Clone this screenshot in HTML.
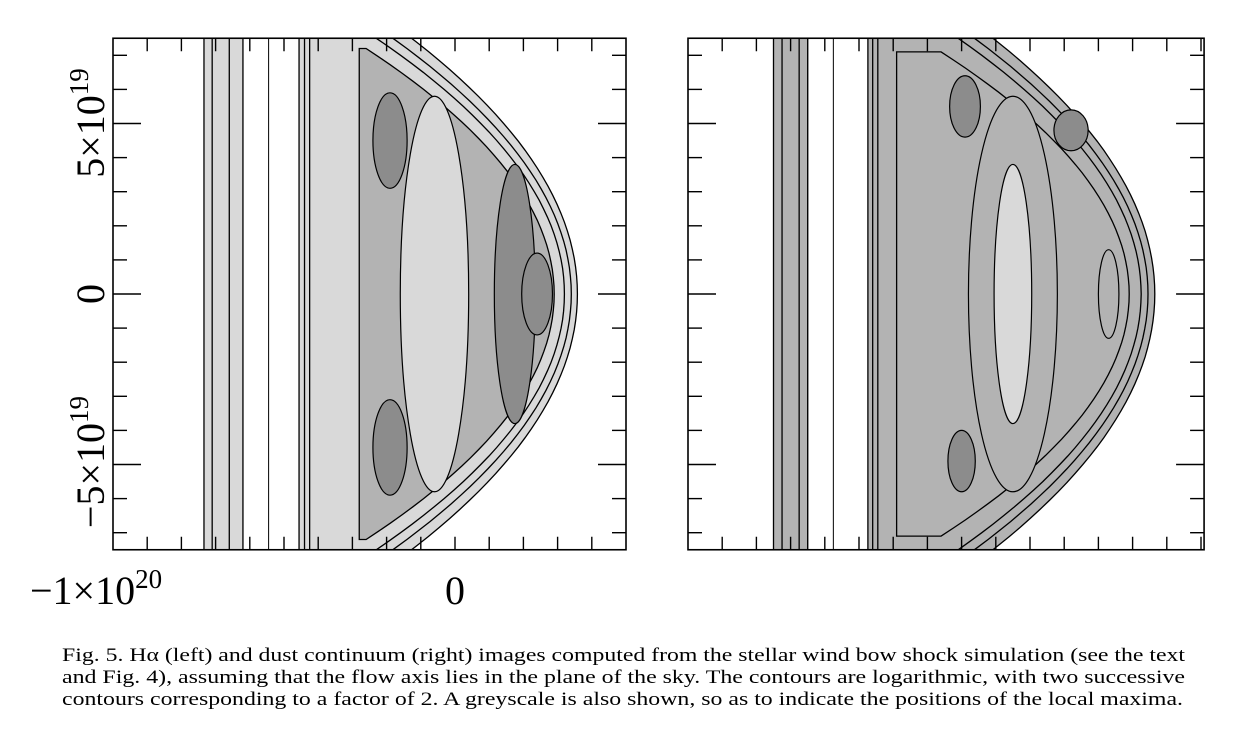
<!DOCTYPE html>
<html><head><meta charset="utf-8"><style>
html,body{margin:0;padding:0;background:#fff;}
svg{display:block;font-family:"Liberation Serif",serif;}
</style></head><body>
<svg id="fig" width="1243" height="743" viewBox="0 0 1243 743">
<defs>
<clipPath id="clipL"><rect x="113" y="38" width="513" height="512"/></clipPath>
<clipPath id="clipR"><rect x="688" y="38" width="516" height="512"/></clipPath>
</defs>
<g id="left"></g>
<g id="right"></g>
<g id="labels">
<text transform="translate(104,123) rotate(-90)" text-anchor="middle" font-size="40">5×10<tspan font-size="27" dy="-16">19</tspan></text>
<text transform="translate(104,294) rotate(-90)" text-anchor="middle" font-size="40">0</text>
<text transform="translate(104,462) rotate(-90)" text-anchor="middle" font-size="40">−5×10<tspan font-size="27" dy="-16">19</tspan></text>
<text x="30" y="604" font-size="40">−1×10<tspan font-size="27" dy="-16">20</tspan></text>
<text x="455" y="604" text-anchor="middle" font-size="40">0</text>
</g>
<g font-size="19">
<text x="62" y="661" textLength="1123" lengthAdjust="spacingAndGlyphs">Fig. 5. Hα (left) and dust continuum (right) images computed from the stellar wind bow shock simulation (see the text</text>
<text x="62" y="683" textLength="1123" lengthAdjust="spacingAndGlyphs">and Fig. 4), assuming that the flow axis lies in the plane of the sky. The contours are logarithmic, with two successive</text>
<text x="62" y="705" textLength="1121" lengthAdjust="spacingAndGlyphs">contours corresponding to a factor of 2. A greyscale is also shown, so as to indicate the positions of the local maxima.</text>
</g>
</svg>
<script>
// axis data (units of 1e19)
const xTicks=[-10,-9,-8,-7,-6,-5,-4,-3,-2,-1,0,1,2,3,4,5];
const yTicks=[-7,-6,-5,-4,-3,-2,-1,0,1,2,3,4,5,6,7];
const yMajor=[-5,0,5];
// bow contours: [left, rightCenter, rightEnd, halfHeight, fillLevel]
const bowsL=[[-4.56,3.58,-1.8,7.9,1],[-4.4,3.4,-2.1,7.7,1],[-4.25,3.2,-2.3,7.5,1],[-2.8,2.9,-2.6,7.2,2]];
const bowsR=[[-4.74,3.65,-1.6,7.9,2],[-4.6,3.45,-1.9,7.7,2],[-4.45,3.25,-2.1,7.5,2],[-3.9,2.9,-2.6,7.1,2]];
// bars: [left, right, fillLevel]
const barsL=[[-7.34,-6.2,1],[-7.1,-6.6,1]];
const barsR=[[-7.5,-6.5,2],[-7.25,-6.75,2]];
// blobs (ellipses): [cx, cy, rx, ry, fillLevel]
const blobsL=[[-0.6,0,1.0,5.8,1],[1.75,0,0.6,3.8,3],[2.4,0,0.45,1.2,3],[-1.9,4.5,0.5,1.4,3],[-1.9,-4.5,0.5,1.4,3]];
const blobsR=[[-0.5,0,1.3,5.8,2],[-0.5,0,0.55,3.8,1],[-2.0,-4.9,0.4,0.9,3],[-1.9,5.5,0.45,0.9,3],[1.2,4.8,0.5,0.6,3],[2.3,0,0.3,1.3,2]];
const fills=["#fff","#d9d9d9","#b3b3b3","#8c8c8c"];
const NS="http://www.w3.org/2000/svg";
function mk(tag,attrs,parent){const e=document.createElementNS(NS,tag);for(const k in attrs)e.setAttribute(k,attrs[k]);parent.appendChild(e);return e;}
function panel(gid,x0px,clip,bows,bars,blobs,lastX){
  const g=document.getElementById(gid);
  const sx=v=>x0px+v*34.2, sy=v=>294-v*34.1;
  const c=mk('g',{'clip-path':'url(#'+clip+')'},g);
  bars.forEach(b=>{
    const r=mk('rect',{x:sx(b[0]),y:30,width:sx(b[1])-sx(b[0]),height:530,fill:fills[b[2]],stroke:'#000','stroke-width':1.3},c);
    
    
  });
  const wig=mk('rect',{x:sx(bars[0][1]),y:30,width:sx(bars[0][1]+0.75)-sx(bars[0][1]),height:530,fill:'none',stroke:'#000','stroke-width':1},c);
  
  
  bows.forEach(b=>{
    let d='M'+sx(b[0])+','+sy(b[3]);
    for(let i=0;i<=60;i++){const y=b[3]-i*2*b[3]/60;const t=y/b[3];const x=b[2]+(b[1]-b[2])*(1-t*t);d+=' L'+sx(x).toFixed(1)+','+sy(y).toFixed(1);}
    d+=' L'+sx(b[0])+','+sy(-b[3])+' Z';
    const p=mk('path',{d:d,fill:fills[b[4]],stroke:'#000','stroke-width':1.3},c);
    
    
  });
  blobs.forEach(b=>{
    const e=mk('ellipse',{cx:sx(b[0]),cy:sy(b[1]),rx:b[2]*34.2,ry:b[3]*34.1,fill:fills[b[4]],stroke:'#000','stroke-width':1.2},c);
    
    
  });
  const L=sx(-10),R=sx(lastX),T=sy(7.5),B=sy(-7.5);
  const fr=mk('rect',{x:L,y:T,width:R-L,height:B-T,fill:'none',stroke:'#000','stroke-width':1.6},g);
  
  
  xTicks.forEach(v=>{
    if(v<=-10||v>=lastX)return;
    const t1=mk('line',{x1:sx(v),x2:sx(v),y1:B,y2:B-13,stroke:'#000','stroke-width':1.4},g);
    
    
    const t2=mk('line',{x1:sx(v),x2:sx(v),y1:T,y2:T+13,stroke:'#000','stroke-width':1.4},g);
    
    
  });
  yTicks.forEach(v=>{
    const len=yMajor.includes(v)?28:14;
    const t1=mk('line',{x1:L,x2:L+len,y1:sy(v),y2:sy(v),stroke:'#000','stroke-width':1.4},g);
    
    
    const t2=mk('line',{x1:R,x2:R-len,y1:sy(v),y2:sy(v),stroke:'#000','stroke-width':1.4},g);
    
    
  });
}
panel('left',455,'clipL',bowsL,barsL,blobsL,5);
panel('right',1030,'clipR',bowsR,barsR,blobsR,5.09);
</script>
</body></html>
